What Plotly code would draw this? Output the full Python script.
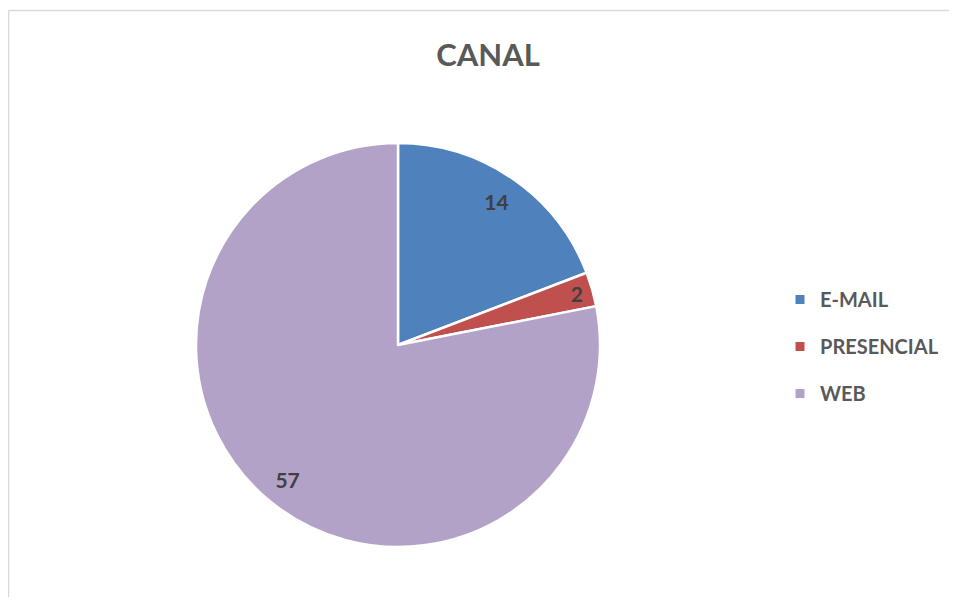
import plotly.graph_objects as go

categories = ["E-MAIL", "PRESENCIAL", "WEB"]
values = [14, 2, 57]
colors = ["#4F81BD", "#C0504D", "#B3A2C7"]

# page has an 8px body margin; figure coordinates = page coordinates - 8
W, H = 941, 589
OFF = 8
fig = go.Figure()

dom = dict(x=[(196 - OFF) / W, (600 - OFF) / W], y=[1 - (547 - OFF) / H, 1 - (143 - OFF) / H])

fig.add_trace(go.Pie(
    labels=categories, values=values, sort=False, direction="clockwise", rotation=0,
    marker=dict(colors=colors, line=dict(color="white", width=2.5)),
    textinfo="none", domain=dom, showlegend=False,
    hoverinfo="label+value+percent",
))

# transparent ring carrying the data labels near the outer edge
fig.add_trace(go.Pie(
    labels=categories, values=values, sort=False, direction="clockwise", rotation=0,
    hole=0.72,
    marker=dict(colors=["rgba(0,0,0,0)"] * len(values), line=dict(width=0)),
    texttemplate="%{value}", textposition="inside", insidetextorientation="horizontal",
    textfont=dict(family="Lato", size=21, color="#404040", weight="bold"),
    domain=dom, showlegend=False, hoverinfo="skip",
))

for c, col in zip(categories, colors):
    fig.add_trace(go.Scatter(
        x=[None], y=[None], mode="markers", name=c, legendgroup=c,
        marker=dict(symbol="square", size=9, color=col),
    ))

fig.update_layout(
    width=W, height=H,
    margin=dict(l=0, r=0, t=0, b=0),
    paper_bgcolor="white", plot_bgcolor="white",
    title=dict(text="<b>CANAL</b>", x=(488 - OFF) / W, xanchor="center", y=1 - (55 - OFF) / H, yanchor="middle",
               xref="container", yref="container",
               font=dict(family="Lato", size=31, color="#595959")),
    legend=dict(x=772 / W, xanchor="left", y=1 - 272 / H, yanchor="top",
                tracegroupgap=18, itemwidth=30,
                font=dict(family="Lato", size=20, color="#595959", weight="bold"),
                bgcolor="rgba(0,0,0,0)"),
    xaxis=dict(visible=False), yaxis=dict(visible=False),
    shapes=[
        dict(type="line", xref="paper", yref="paper", x0=0.5 / W, x1=0.5 / W, y0=0, y1=1 - 2.5 / H,
             line=dict(color="#D9D9D9", width=1.5), layer="below"),
        dict(type="line", xref="paper", yref="paper", x0=0.5 / W, x1=1, y0=1 - 2.5 / H, y1=1 - 2.5 / H,
             line=dict(color="#D9D9D9", width=1.5), layer="below"),
    ],
)

fig.write_html("out.html")
